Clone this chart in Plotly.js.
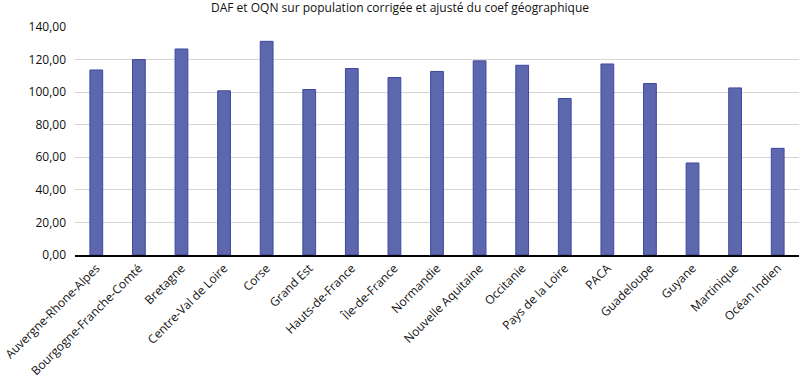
<!DOCTYPE html>
<html><head><meta charset="utf-8">
<script src="https://cdn.plot.ly/plotly-3.0.1.min.js"></script>
<style>html,body{margin:0;padding:0;background:#fff}#chart{width:800px;height:376px}</style>
</head><body><div id="chart"></div>
<script>
const categories = ["Auvergne-Rhone-Alpes","Bourgogne-Franche-Comté","Bretagne","Centre-Val de Loire","Corse","Grand Est","Hauts-de-France","Île-de-France","Normandie","Nouvelle Aquitaine","Occitanie","Pays de la Loire","PACA","Guadeloupe","Guyane","Martinique","Océan Indien"];
const values = [113.6,120.0,126.5,100.8,131.2,101.6,114.5,109.0,112.7,119.2,116.5,96.1,117.3,105.3,56.5,102.6,65.5];
const yTicks = [0,20,40,60,80,100,120,140];

const font = "Open Sans, Noto Sans, sans-serif";
Plotly.newPlot('chart', [{
  type: 'bar', x: categories, y: values,
  marker: {color: 'rgb(93,103,173)', line: {color: 'rgb(62,72,160)', width: 1}},
  hoverinfo: 'none'
}], {
  width: 800, height: 376,
  margin: {l: 75, r: 1, t: 27, b: 121},
  paper_bgcolor: '#fff', plot_bgcolor: '#fff',
  title: {text: 'DAF et OQN sur population corrigée et ajusté du coef géographique', x: 0.5, xanchor: 'center', y: 0.99, yanchor: 'top', font: {family: font, size: 12, color: '#111'}},
  separators: ',.',
  bargap: 0.7,
  xaxis: {tickangle: -45, tickfont: {family: font, size: 12, color: '#111'}, showline: true, linecolor: '#000', linewidth: 1.5, ticks: '', showgrid: false},
  yaxis: {range: [0, 140], tickvals: yTicks, tickformat: '.2f', tickfont: {family: font, size: 12, color: '#111'}, showgrid: true, gridcolor: '#d4d4d4', gridwidth: 1, zeroline: false, ticks: '', ticklabelstandoff: 8},
  showlegend: false
}, {staticPlot: true});
</script></body></html>
